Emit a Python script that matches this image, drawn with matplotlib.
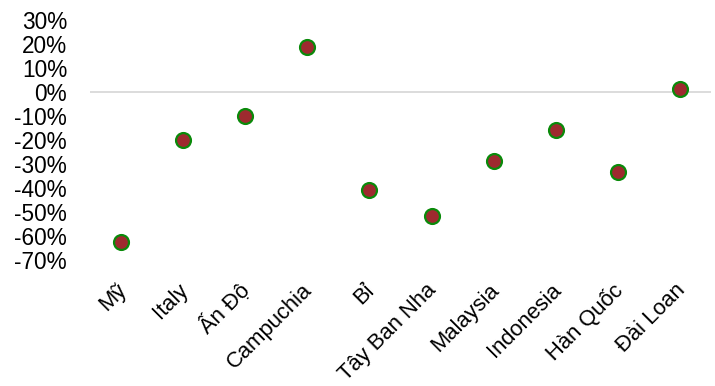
import matplotlib
matplotlib.use("Agg")
import matplotlib.pyplot as plt
from matplotlib.ticker import FuncFormatter
from matplotlib.transforms import ScaledTranslation

plt.rcParams['font.family'] = ['Liberation Sans', 'DejaVu Sans']

countries = ["Mỹ", "Italy", "Ấn Độ", "Campuchia", "Bỉ", "Tây Ban Nha",
             "Malaysia", "Indonesia", "Hàn Quốc", "Đài Loan"]
change_pct = [-62.5, -20.0, -10.0, 18.8, -41.0, -51.5, -28.8, -15.8, -33.3, 1.3]
y_ticks = [30, 20, 10, 0, -10, -20, -30, -40, -50, -60, -70]

fig = plt.figure(figsize=(7.15, 3.86), dpi=100)
ax = fig.add_axes([90 / 715, 1 - 260 / 386, 621 / 715, 240 / 386])

x = list(range(len(countries)))
ax.axhline(0, color="#d9d9d9", linewidth=1.3, zorder=1)
ax.scatter(x, change_pct, s=115, color="#9e2a2f", edgecolors="#0a8a0a",
           linewidths=1.6, zorder=3)

ax.set_xlim(-0.5, len(countries) - 0.5)
ax.set_ylim(-70, 30)
ax.set_yticks(y_ticks)
ax.yaxis.set_major_formatter(FuncFormatter(lambda v, p: f"{v:.0f}%"))
ax.set_xticks(x)
ax.set_xticklabels(countries, rotation=45, ha="right", va="baseline",
                   rotation_mode="anchor")

for s in ax.spines.values():
    s.set_visible(False)
ax.tick_params(axis="y", length=0, labelsize=16.3, colors="black", pad=16.5)
ax.tick_params(axis="x", length=0, labelsize=15.8, colors="black", pad=22.5)

# nudge the slanted category labels so their ends sit just right of each tick
shift = ScaledTranslation(6 / 100, 0, fig.dpi_scale_trans)
for lbl in ax.get_xticklabels():
    lbl.set_transform(lbl.get_transform() + shift)

fig.savefig("out.png", dpi=100)
